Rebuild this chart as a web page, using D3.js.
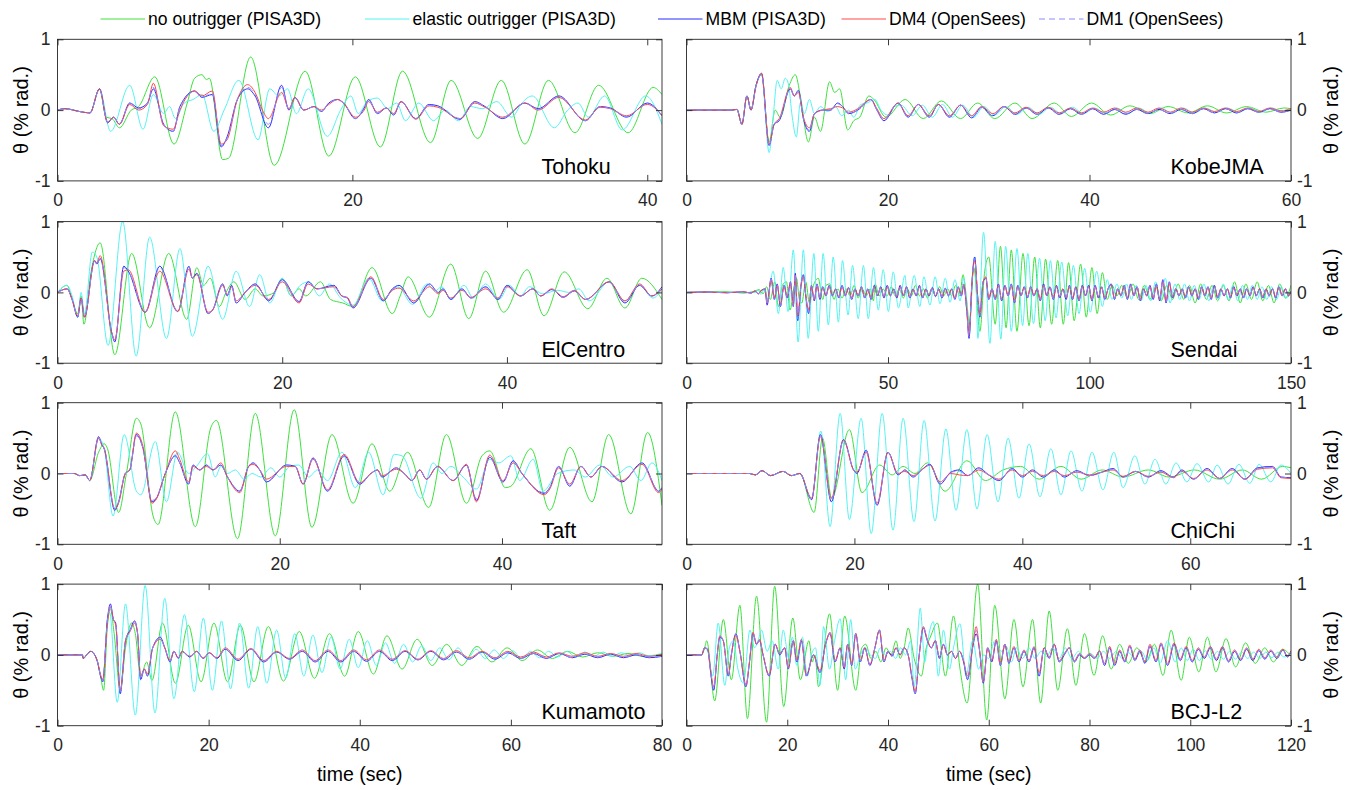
<!DOCTYPE html>
<html>
<head>
<meta charset="utf-8">
<script src="https://cdn.jsdelivr.net/npm/d3@7"></script>
<style>
  body { margin: 0; background: #fff; }
  svg { display: block; }
  text { font-family: "Liberation Sans", Arial, Helvetica, sans-serif; }
</style>
</head>
<body>
<svg id="chart" width="1355" height="790"></svg>
<script>
// ---- Roof rotation histories, flat [t, theta, t, theta, ...] lists (theta in % rad.) ----

// Tohoku
const tohokuNone = [0,0, 0.5,0.02, 1.5,-0.02, 2.2,-0.04, 2.85,0.3, 3.3,-0.1, 3.7,-0.12, 4.2,-0.25, 5.0,0.0, 5.5,0.05, 6.6,0.47, 7.9,-0.48, 8.8,0.1, 9.3,0.45, 9.8,0.5, 10.1,0.43, 10.3,0.45, 11.2,-0.7, 11.6,-0.68, 13.1,0.75, 14.7,-0.78, 16.8,0.55, 18.4,-0.65, 20.2,0.47, 21.9,-0.52, 23.4,0.55, 25.3,-0.46, 26.7,0.42, 28.5,-0.4, 30.1,0.42, 31.7,-0.48, 33.3,0.42, 35.1,-0.32, 36.7,0.35, 38.7,-0.32, 40.4,0.32, 41,0.22];
const tohokuElastic = [0,0, 0.5,0.02, 1.5,-0.02, 2.2,-0.04, 2.85,0.3, 3.6,-0.3, 4.9,0.35, 5.8,-0.27, 6.5,0.22, 7.2,-0.05, 7.6,0.05, 8.0,-0.12, 8.6,0.1, 9.2,0.15, 9.8,0.22, 10.6,-0.3, 11.3,0.0, 12.3,0.42, 13.6,-0.42, 14.4,0.3, 15.0,0.2, 15.6,0.3, 16.2,-0.05, 17.0,0.3, 18.3,-0.37, 19.2,0.0, 19.9,0.2, 20.4,-0.05, 21.0,0.12, 21.7,0.17, 22.4,0.02, 23.0,0.1, 23.6,-0.15, 24.5,0.1, 25.5,-0.15, 26.3,0.0, 27.2,-0.15, 28.0,0.05, 28.8,0.02, 29.8,0.12, 30.8,-0.1, 31.5,0.1, 32.2,0.2, 33.7,-0.25, 34.6,0.0, 35.3,0.1, 36.0,-0.1, 37.1,0.2, 38.3,-0.28, 39.9,0.2, 41,-0.2];
const tohokuMBM = [0,0, 0.5,0.02, 1.5,-0.02, 2.2,-0.04, 2.85,0.3, 3.4,-0.18, 3.8,-0.1, 4.2,-0.2, 4.9,0.1, 5.5,0.03, 6.1,0.1, 6.5,0.3, 7.2,-0.2, 7.85,-0.3, 8.3,0.05, 9.3,0.27, 9.8,0.18, 10.5,0.22, 11.1,-0.52, 11.5,-0.38, 12.2,0.15, 12.9,0.3, 13.4,0.2, 14.3,-0.25, 15.2,0.35, 15.7,0.0, 16.1,0.18, 16.7,0.0, 17.4,0.05, 17.9,-0.02, 18.4,0.1, 19.0,0.15, 19.4,0.1, 20.2,-0.12, 20.8,0.03, 21.1,0.15, 21.7,-0.05, 22.3,0.03, 22.8,-0.07, 23.3,0.12, 24.3,-0.12, 25.2,0.08, 25.8,0.06, 27.3,-0.13, 28.3,0.12, 29.0,0.05, 30.2,-0.12, 31.7,0.1, 32.6,0.02, 34.0,0.2, 35.8,-0.15, 36.8,0.05, 37.5,0.03, 38.6,-0.1, 40.0,0.1, 41,-0.08];
const tohokuDM4 = [0,0, 0.5,0.02, 1.5,-0.02, 2.2,-0.04, 2.85,0.3, 3.4,-0.17, 3.8,-0.1, 4.2,-0.2, 4.9,0.08, 5.5,0.0, 6.1,0.08, 6.5,0.38, 7.2,-0.22, 7.85,-0.27, 8.3,0.0, 9.3,0.27, 9.8,0.2, 10.5,0.27, 11.1,-0.48, 11.5,-0.42, 12.2,0.15, 12.9,0.36, 13.4,0.25, 13.9,0.0, 14.3,-0.12, 15.2,0.25, 15.7,0.02, 16.1,0.18, 16.7,0.0, 17.4,0.05, 17.9,0.0, 18.4,0.08, 19.0,0.15, 19.4,0.1, 20.2,-0.1, 20.8,0.0, 21.1,0.12, 21.7,-0.03, 22.3,0.03, 22.8,-0.05, 23.3,0.12, 24.3,-0.13, 25.2,0.06, 25.8,0.04, 27.3,-0.12, 28.3,0.1, 29.0,0.04, 30.2,-0.1, 31.7,0.1, 32.6,0.0, 34.0,0.18, 35.8,-0.14, 36.8,0.04, 37.5,0.02, 38.6,-0.08, 40.0,0.08, 41,-0.07];
const tohokuDM1 = [0,0, 0.5,0.02, 1.5,-0.02, 2.2,-0.04, 2.85,0.29, 3.4,-0.17, 3.8,-0.1, 4.2,-0.19, 4.9,0.1, 5.5,0.02, 6.1,0.1, 6.5,0.32, 7.2,-0.2, 7.85,-0.3, 8.3,0.04, 9.3,0.26, 9.8,0.18, 10.5,0.24, 11.1,-0.5, 11.5,-0.4, 12.2,0.15, 12.9,0.32, 13.4,0.22, 14.3,-0.2, 15.2,0.32, 15.7,0.0, 16.1,0.17, 16.7,0.0, 17.4,0.05, 17.9,-0.02, 18.4,0.1, 19.0,0.14, 19.4,0.1, 20.2,-0.12, 20.8,0.02, 21.1,0.14, 21.7,-0.04, 22.3,0.03, 22.8,-0.06, 23.3,0.12, 24.3,-0.12, 25.2,0.07, 25.8,0.05, 27.3,-0.12, 28.3,0.11, 29.0,0.05, 30.2,-0.11, 31.7,0.1, 32.6,0.01, 34.0,0.19, 35.8,-0.15, 36.8,0.05, 37.5,0.02, 38.6,-0.09, 40.0,0.09, 41,-0.08];

// KobeJMA
const kobeNone = [0,0, 4.5,0, 5.0,0.01, 5.5,-0.2, 6.0,0.2, 6.4,0.0, 6.9,0.35, 7.45,0.5, 8.2,-0.45, 8.8,0.0, 9.3,-0.1, 10.2,0.35, 10.8,0.5, 11.3,0.2, 12.1,-0.45, 12.7,-0.1, 13.3,-0.3, 14.2,0.4, 14.7,0.25, 15.2,0.3, 16.0,-0.28, 16.6,-0.15, 17.2,-0.1, 18.1,0.2, 18.6,0.15, 19.8,-0.1, 21.7,0.15, 23.5,-0.12, 25.3,0.13, 27.2,-0.12, 28.9,0.1, 30.6,-0.12, 32.6,0.1, 34.3,-0.12, 36.5,0.1, 38.2,-0.09, 40.2,0.1, 42.1,-0.07, 44.0,0.06, 46.0,-0.05, 47.8,0.05, 49.8,-0.04, 51.7,0.06, 53.6,-0.04, 55.6,0.05, 57.5,-0.03, 59.3,0.03, 60,0.02];
const kobeElastic = [0,0, 4.5,0, 5.0,0.01, 5.5,-0.2, 6.0,0.2, 6.4,0.0, 6.9,0.35, 7.45,0.5, 8.2,-0.6, 8.6,-0.1, 9.0,0.42, 9.4,0.3, 9.8,0.45, 10.1,0.38, 10.5,-0.1, 10.9,-0.38, 11.3,0.1, 11.7,-0.05, 12.2,0.15, 12.7,-0.05, 13.3,0.05, 14.0,-0.02, 14.8,0.05, 15.4,-0.08, 16.1,0.0, 16.6,-0.1, 17.3,0.08, 17.9,0.1, 18.7,0.15, 19.3,0.0, 20.0,-0.07, 20.6,0.05, 21.3,0.07, 22.4,-0.08, 23.4,0.07, 24.4,-0.1, 25.4,0.08, 26.4,-0.1, 27.4,0.07, 28.5,-0.1, 29.5,0.05, 30.6,-0.07, 31.7,0.05, 32.8,-0.06, 33.9,0.04, 35.0,-0.06, 36.1,0.04, 37.2,-0.05, 38.3,0.04, 39.4,-0.05, 40.5,0.03, 41.6,-0.05, 42.7,0.03, 43.8,-0.05, 44.9,0.03, 46.0,-0.04, 47.1,0.03, 48.2,-0.04, 49.3,0.03, 50.4,-0.04, 51.5,0.03, 52.6,-0.03, 53.7,0.03, 54.8,-0.03, 55.9,0.03, 57.0,-0.03, 58.1,0.03, 59.2,-0.02, 60,0.01];
const kobeMBM = [0,0, 4.5,0, 5.0,0.01, 5.5,-0.2, 6.0,0.2, 6.4,0.0, 6.9,0.35, 7.45,0.52, 8.2,-0.5, 8.7,-0.2, 9.2,-0.15, 10.3,0.3, 10.7,0.2, 11.1,0.28, 11.6,-0.12, 12.2,-0.3, 12.7,-0.05, 13.5,0.0, 14.3,0.0, 15.0,0.1, 15.5,0.05, 16.1,-0.05, 17.0,0.0, 18.3,0.15, 18.9,0.0, 19.6,-0.15, 21.0,0.1, 22.0,-0.1, 23.0,0.08, 24.1,-0.1, 25.0,0.08, 26.1,-0.1, 27.2,0.07, 28.3,-0.11, 29.3,0.04, 30.4,-0.08, 31.5,0.05, 32.6,-0.06, 33.7,0.03, 34.8,-0.06, 35.9,0.03, 37.0,-0.06, 38.1,0.02, 39.2,-0.06, 40.3,0.02, 41.4,-0.06, 42.5,0.01, 43.6,-0.06, 44.7,0.01, 45.8,-0.05, 46.9,0.01, 48.0,-0.05, 49.1,0.01, 50.2,-0.05, 51.3,0.02, 52.4,-0.04, 53.5,0.02, 54.6,-0.04, 55.7,0.02, 56.8,-0.03, 57.9,0.02, 59.0,-0.03, 60,0.0];
const kobeDM4 = [0,0, 4.5,0, 5.0,0.01, 5.5,-0.2, 6.0,0.2, 6.4,0.0, 6.9,0.33, 7.45,0.52, 8.2,-0.48, 8.7,-0.2, 9.2,-0.12, 10.3,0.32, 10.7,0.2, 11.1,0.25, 11.6,-0.1, 12.2,-0.25, 12.7,-0.05, 13.5,0.0, 14.3,0.02, 15.0,0.05, 15.5,0.03, 16.1,-0.03, 17.0,0.02, 18.3,0.15, 18.9,0.02, 19.6,-0.12, 21.0,0.1, 22.0,-0.08, 23.0,0.08, 24.1,-0.08, 25.0,0.08, 26.1,-0.08, 27.2,0.07, 28.3,-0.08, 29.3,0.05, 30.4,-0.05, 31.5,0.05, 32.6,-0.04, 33.7,0.04, 34.8,-0.04, 35.9,0.04, 37.0,-0.04, 38.1,0.03, 39.2,-0.04, 40.3,0.03, 41.4,-0.03, 42.5,0.03, 43.6,-0.03, 44.7,0.03, 45.8,-0.03, 46.9,0.03, 48.0,-0.03, 49.1,0.03, 50.2,-0.03, 51.3,0.03, 52.4,-0.02, 53.5,0.03, 54.6,-0.02, 55.7,0.03, 56.8,-0.02, 57.9,0.03, 59.0,-0.01, 60,0.02];
const kobeDM1 = [0,0, 4.5,0, 5.0,0.01, 5.5,-0.19, 6.0,0.2, 6.4,0.0, 6.9,0.34, 7.45,0.5, 8.2,-0.5, 8.7,-0.2, 9.2,-0.14, 10.3,0.3, 10.7,0.2, 11.1,0.27, 11.6,-0.12, 12.2,-0.28, 12.7,-0.05, 13.5,0.0, 14.3,0.0, 15.0,0.09, 15.5,0.05, 16.1,-0.05, 17.0,0.0, 18.3,0.15, 18.9,0.0, 19.6,-0.14, 21.0,0.1, 22.0,-0.1, 23.0,0.08, 24.1,-0.1, 25.0,0.08, 26.1,-0.1, 27.2,0.07, 28.3,-0.1, 29.3,0.04, 30.4,-0.08, 31.5,0.05, 32.6,-0.06, 33.7,0.03, 34.8,-0.06, 35.9,0.03, 37.0,-0.06, 38.1,0.02, 39.2,-0.06, 40.3,0.02, 41.4,-0.05, 42.5,0.01, 43.6,-0.05, 44.7,0.01, 45.8,-0.05, 46.9,0.01, 48.0,-0.05, 49.1,0.01, 50.2,-0.05, 51.3,0.02, 52.4,-0.04, 53.5,0.02, 54.6,-0.04, 55.7,0.02, 56.8,-0.03, 57.9,0.02, 59.0,-0.03, 60,0.0];

// ElCentro
const elcNone = [0,0, 0.85,0.1, 1.3,-0.1, 1.8,-0.3, 2.1,-0.05, 2.35,-0.45, 3.0,0.3, 3.8,0.7, 5.1,-0.88, 6.6,0.55, 8.2,-0.5, 9.9,0.55, 11.5,-0.38, 12.4,0.35, 13.0,0.1, 13.6,0.2, 14.4,-0.2, 15.0,0.0, 15.7,0.15, 16.7,-0.1, 17.6,0.05, 18.3,-0.05, 19.3,0.0, 20.0,0.2, 20.8,-0.05, 21.5,0.05, 22.1,-0.05, 23.4,0.15, 24.3,-0.1, 25.4,-0.15, 26.3,-0.2, 28.0,0.35, 29.8,-0.3, 30.5,-0.05, 31.2,0.22, 33.1,-0.35, 35.0,0.4, 36.6,-0.37, 38.1,0.3, 39.7,-0.28, 41.8,0.32, 43.3,-0.33, 45.1,0.29, 47.2,-0.23, 48.9,0.2, 50.5,-0.22, 52.0,0.2, 53.8,-0.1];
const elcElastic = [0,0, 0.85,0.1, 1.3,-0.05, 1.8,-0.35, 2.1,0.0, 2.4,-0.3, 3.1,0.57, 3.5,0.5, 4.5,-0.75, 5.8,1.0, 7.0,-0.9, 8.2,0.78, 9.7,-0.65, 10.9,0.62, 12.0,-0.62, 13.4,0.37, 14.7,-0.38, 15.9,0.3, 17.1,-0.2, 18.0,0.25, 18.9,-0.15, 20.0,0.2, 20.8,-0.05, 21.6,0.1, 22.4,0.15, 23.3,-0.05, 24.2,0.12, 25.2,-0.08, 26.3,-0.18, 27.7,0.2, 28.9,-0.12, 29.6,0.0, 30.3,0.08, 31.6,-0.17, 32.9,0.12, 33.6,0.02, 34.2,0.08, 35.0,-0.1, 36.2,0.1, 37.0,-0.08, 38.1,0.12, 39.3,-0.1, 40.2,0.1, 41.2,-0.05, 42.0,0.08, 43.2,-0.02, 44.5,0.03, 45.5,0.0, 46.4,0.05, 47.3,-0.12, 49.1,0.15, 50.5,-0.12, 51.8,0.1, 53.0,-0.08, 53.8,0.05];
const elcMBM = [0,0, 0.85,0.05, 1.3,-0.1, 1.8,-0.35, 2.1,-0.08, 2.4,-0.35, 3.3,0.45, 3.5,0.4, 3.8,0.48, 4.8,-0.55, 5.1,-0.7, 5.9,0.37, 6.3,0.3, 7.8,-0.28, 9.1,0.37, 10.7,-0.27, 11.7,0.37, 12.0,0.2, 12.4,0.27, 13.4,-0.3, 13.8,-0.25, 14.7,0.12, 15.1,-0.05, 15.5,0.1, 15.9,-0.15, 16.7,0.0, 17.6,0.12, 18.8,-0.12, 20.0,0.18, 21.5,-0.13, 22.3,0.15, 23.1,0.05, 24.6,0.1, 25.3,-0.05, 25.8,-0.08, 26.3,-0.22, 27.9,0.2, 29.0,-0.12, 29.8,0.05, 30.4,0.1, 31.7,-0.15, 33.1,0.12, 33.9,0.0, 34.3,0.05, 35.0,-0.1, 36.0,0.05, 36.8,-0.08, 38.1,0.08, 39.2,-0.1, 40.0,0.1, 41.2,-0.05, 42.3,0.05, 43.0,-0.05, 44.0,0.04, 45.0,-0.07, 46.0,0.02, 47.0,-0.1, 49.1,0.15, 50.5,-0.15, 51.8,0.1, 52.9,-0.05, 53.8,0.08];
const elcDM4 = [0,0, 0.85,0.05, 1.3,-0.1, 1.8,-0.33, 2.1,-0.08, 2.4,-0.35, 3.3,0.45, 3.5,0.42, 3.8,0.52, 4.8,-0.55, 5.1,-0.67, 5.9,0.3, 6.3,0.32, 7.8,-0.28, 9.1,0.3, 10.7,-0.27, 11.7,0.33, 12.0,0.2, 12.4,0.25, 13.4,-0.28, 13.8,-0.25, 14.7,0.1, 15.1,-0.03, 15.5,0.08, 15.9,-0.12, 16.7,0.0, 17.6,0.1, 18.8,-0.1, 20.0,0.15, 21.5,-0.15, 22.3,0.12, 23.1,0.05, 24.6,0.08, 25.3,-0.05, 25.8,-0.07, 26.3,-0.2, 27.9,0.22, 29.0,-0.1, 29.8,0.03, 30.4,0.06, 31.7,-0.12, 33.1,0.08, 33.9,-0.02, 34.3,0.03, 35.0,-0.08, 36.0,0.03, 36.8,-0.07, 38.1,0.05, 39.2,-0.08, 40.0,0.08, 41.2,-0.05, 42.3,0.05, 43.0,-0.05, 44.0,0.05, 45.0,-0.06, 46.0,0.03, 47.0,-0.1, 49.1,0.15, 50.5,-0.12, 51.8,0.12, 52.9,-0.05, 53.8,0.05];
const elcDM1 = [0,0, 0.85,0.05, 1.3,-0.1, 1.8,-0.34, 2.1,-0.08, 2.4,-0.34, 3.3,0.44, 3.5,0.4, 3.8,0.47, 4.8,-0.55, 5.1,-0.68, 5.9,0.35, 6.3,0.3, 7.8,-0.27, 9.1,0.35, 10.7,-0.26, 11.7,0.36, 12.0,0.2, 12.4,0.26, 13.4,-0.3, 13.8,-0.25, 14.7,0.11, 15.1,-0.05, 15.5,0.09, 15.9,-0.14, 16.7,0.0, 17.6,0.11, 18.8,-0.11, 20.0,0.17, 21.5,-0.13, 22.3,0.14, 23.1,0.05, 24.6,0.09, 25.3,-0.05, 25.8,-0.08, 26.3,-0.21, 27.9,0.2, 29.0,-0.11, 29.8,0.04, 30.4,0.09, 31.7,-0.14, 33.1,0.11, 33.9,0.0, 34.3,0.04, 35.0,-0.09, 36.0,0.04, 36.8,-0.08, 38.1,0.07, 39.2,-0.09, 40.0,0.09, 41.2,-0.05, 42.3,0.05, 43.0,-0.05, 44.0,0.04, 45.0,-0.07, 46.0,0.02, 47.0,-0.1, 49.1,0.14, 50.5,-0.14, 51.8,0.1, 52.9,-0.05, 53.8,0.07];

// Sendai
const sendaiNone = [0,0, 10,0.01, 14,-0.01, 17,0.02, 18,0.04, 19,-0.02, 19.9,0.08, 20.8,-0.1, 21.9,0.15, 22.8,-0.2, 23.8,0.1, 24.8,0.15, 25.7,-0.25, 26.6,0.05, 27.3,0.2, 28.0,-0.1, 28.6,-0.15, 29.6,0.15, 30.5,-0.15, 31.5,0.1, 32.7,0.2, 33.8,-0.1, 34.6,0.1, 35.6,0.12, 36.6,-0.1, 37.6,0.05, 38.6,-0.08, 39.6,0.05, 40.6,-0.05, 41.6,0.1, 42.6,-0.08, 43.6,0.05, 44.6,-0.05, 45.6,0.05, 46.4,-0.12, 46.8,0.12, 47.8,-0.05, 48.8,0.05, 49.8,-0.05, 50.8,0.08, 51.8,-0.05, 52.8,0.05, 53.8,-0.08, 54.8,0.05, 55.8,-0.05, 56.8,0.1, 57.8,-0.05, 58.8,0.05, 59.8,-0.08, 60.8,0.05, 61.8,-0.05, 62.8,0.08, 63.8,-0.05, 64.8,0.05, 65.8,-0.05, 66.8,0.1, 67.8,-0.05, 68.6,0.25, 69.5,-0.1, 70.2,-0.45, 71.3,0.35, 72.8,-0.55, 74.0,0.3, 75.0,0.5, 76.6,-0.45, 77.9,0.65, 79.3,-0.5, 80.6,0.6, 82.0,-0.55, 83.5,0.55, 85.0,-0.47, 86.4,0.5, 87.8,-0.5, 89.1,0.47, 90.6,-0.45, 92.1,0.45, 93.5,-0.45, 94.8,0.42, 96.2,-0.4, 97.8,0.4, 99.2,-0.35, 100.6,0.35, 101.9,-0.3, 103.2,0.28, 104.4,-0.1, 105.6,0.1, 106.8,-0.05, 108.0,0.1, 109.4,-0.08, 110.8,0.12, 112.2,-0.1, 113.6,0.1, 115.0,-0.1, 116.4,0.08, 117.8,-0.12, 119.2,0.1, 120.6,-0.1, 122.0,0.12, 123.4,-0.1, 124.8,0.1, 126.2,-0.15, 127.6,0.12, 129.0,-0.1, 130.4,0.1, 131.8,-0.12, 133.2,0.1, 134.6,-0.12, 136.0,0.15, 137.4,-0.15, 138.8,0.12, 140.2,-0.1, 141.6,0.15, 143.0,-0.12, 144.4,0.1, 145.8,-0.15, 147.2,0.12, 148.6,-0.08, 150,0.1];
const sendaiElastic = [0,0, 17,0, 17.8,0.03, 18.5,-0.03, 19.3,0.05, 20,-0.1, 21.5,0.3, 22.8,-0.3, 24.0,0.35, 25.2,-0.27, 26.5,0.6, 27.7,-0.7, 29.0,0.6, 30.2,-0.65, 31.6,0.55, 32.7,-0.55, 33.9,0.55, 35.2,-0.46, 36.4,0.5, 37.7,-0.42, 38.7,0.45, 40.1,-0.32, 41.2,0.38, 42.6,-0.37, 43.9,0.38, 45.1,-0.37, 46.4,0.35, 47.6,-0.25, 48.8,0.32, 50.1,-0.27, 51.3,0.29, 52.6,-0.22, 54.2,0.24, 55.0,-0.22, 56.5,0.24, 57.9,-0.2, 58.9,0.22, 60.4,-0.18, 61.7,0.22, 62.9,-0.16, 64.2,0.2, 65.4,-0.14, 66.6,0.18, 67.9,-0.12, 68.8,0.2, 69.6,-0.2, 70.2,-0.6, 71.0,0.3, 71.6,0.5, 72.3,-0.65, 73.7,0.85, 75.3,-0.72, 76.6,0.72, 78.0,-0.66, 79.2,0.65, 80.6,-0.55, 82.0,0.62, 83.4,-0.47, 84.7,0.55, 86.1,-0.44, 87.6,0.48, 89.0,-0.4, 90.3,0.45, 91.7,-0.36, 93.1,0.43, 94.6,-0.33, 96.0,0.38, 97.4,-0.3, 98.8,0.34, 100.2,-0.28, 101.8,0.3, 103.2,-0.2, 104.4,0.18, 105.6,-0.1, 106.8,0.12, 108.0,-0.08, 109.2,0.12, 110.4,-0.1, 111.6,0.1, 112.8,-0.12, 114.0,0.1, 115.2,-0.12, 116.4,0.15, 117.6,-0.12, 118.8,0.2, 120.0,-0.15, 121.2,0.12, 122.4,-0.1, 123.6,0.12, 124.8,-0.12, 126.0,0.1, 127.2,-0.1, 128.4,0.12, 129.6,-0.12, 130.8,0.1, 132.0,-0.1, 133.2,0.12, 134.4,-0.1, 135.6,0.1, 136.8,-0.12, 138.0,0.1, 139.2,-0.1, 140.4,0.1, 141.6,-0.1, 142.8,0.08, 144.0,-0.1, 145.2,0.08, 146.4,-0.1, 147.6,0.08, 148.8,-0.08, 150,0.02];
const sendaiMBM = [0,0, 5,0.005, 10,-0.005, 14,0.01, 16,-0.01, 17,0.02, 17.8,-0.02, 18.6,0.03, 19.5,0.05, 20.0,-0.18, 21.0,0.2, 21.8,-0.1, 22.5,0.12, 23.3,-0.2, 24.2,0.1, 25.0,-0.08, 25.8,0.15, 26.5,-0.2, 27.0,0.27, 27.6,-0.4, 28.4,0.1, 29.0,0.25, 29.6,-0.05, 30.3,-0.3, 31.0,0.1, 31.7,-0.12, 32.4,0.12, 33.1,-0.1, 33.8,0.08, 34.6,-0.05, 35.4,0.1, 36.2,-0.05, 37.0,0.05, 37.8,-0.08, 38.6,0.1, 39.4,-0.05, 40.2,0.07, 41.0,-0.1, 41.8,0.05, 42.6,-0.05, 43.4,0.08, 44.2,-0.08, 45.0,0.05, 45.8,-0.1, 46.6,0.1, 47.4,-0.05, 48.2,0.08, 49.0,-0.08, 49.8,0.1, 50.6,-0.05, 51.4,0.05, 52.2,-0.08, 53.0,0.1, 53.8,-0.05, 54.6,0.08, 55.4,-0.08, 56.2,0.05, 57.0,-0.05, 57.8,0.1, 58.6,-0.08, 59.4,0.05, 60.2,-0.05, 61.0,0.07, 61.8,-0.06, 62.6,0.05, 63.4,-0.08, 64.2,0.06, 65.0,-0.05, 65.8,0.05, 66.6,-0.1, 67.4,0.08, 68.2,-0.05, 68.8,0.1, 69.6,-0.3, 70.1,-0.65, 70.8,0.1, 71.5,0.5, 72.3,-0.1, 72.8,-0.35, 73.6,0.15, 74.3,0.2, 75.0,-0.1, 75.8,0.05, 76.6,-0.1, 77.4,0.12, 78.2,-0.12, 79.0,0.1, 79.8,-0.05, 80.6,0.12, 81.4,-0.15, 82.2,0.1, 83.0,-0.05, 83.8,0.08, 84.6,-0.08, 85.4,0.08, 86.2,-0.05, 87.0,0.05, 87.8,-0.12, 88.6,0.12, 89.4,-0.05, 90.2,0.08, 91.0,-0.1, 91.8,0.1, 92.6,-0.08, 93.4,0.05, 94.2,-0.1, 95.0,0.1, 95.8,-0.1, 96.6,0.08, 97.4,-0.12, 98.2,0.1, 99.0,-0.05, 99.8,0.1, 100.6,-0.12, 101.4,0.1, 102.2,-0.08, 103.0,0.08, 103.8,-0.1, 104.6,0.05, 105.4,0.12, 106.2,-0.1, 107.0,0.05, 107.8,-0.05, 108.6,0.1, 109.4,-0.1, 110.2,0.12, 111.0,-0.05, 111.8,0.08, 112.6,-0.12, 113.4,0.05, 114.2,-0.05, 115.0,0.1, 115.8,-0.1, 116.6,0.12, 117.4,-0.12, 118.2,0.18, 119.0,-0.15, 119.8,0.15, 120.6,-0.08, 121.4,0.05, 122.2,-0.05, 123.0,0.05, 123.8,-0.08, 124.6,0.08, 125.4,-0.05, 126.2,0.05, 127.0,-0.1, 127.8,0.08, 128.6,-0.05, 129.4,0.08, 130.2,-0.1, 131.0,0.1, 131.8,-0.08, 132.6,0.05, 133.4,-0.05, 134.2,0.05, 135.0,-0.08, 135.8,0.08, 136.6,-0.05, 137.4,0.05, 138.2,-0.08, 139.0,0.05, 139.8,-0.05, 140.6,0.08, 141.4,-0.05, 142.2,0.05, 143.0,-0.08, 143.8,0.05, 144.6,-0.05, 145.4,0.05, 146.2,-0.08, 147.0,0.08, 147.8,-0.05, 148.6,0.05, 149.4,-0.05, 150,0.02];
const sendaiDM4 = [0,0, 5,0.005, 10,-0.005, 14,0.01, 16,-0.01, 17,0.02, 17.8,-0.02, 18.6,0.03, 19.5,0.04, 20.0,-0.15, 21.0,0.18, 21.8,-0.08, 22.5,0.1, 23.3,-0.17, 24.2,0.08, 25.0,-0.06, 25.8,0.13, 26.5,-0.18, 27.0,0.24, 27.6,-0.33, 28.4,0.08, 29.0,0.22, 29.6,-0.04, 30.3,-0.25, 31.0,0.08, 31.7,-0.1, 32.4,0.1, 33.1,-0.08, 33.8,0.07, 34.6,-0.04, 35.4,0.08, 36.2,-0.04, 37.0,0.04, 37.8,-0.06, 38.6,0.08, 39.4,-0.04, 40.2,0.06, 41.0,-0.08, 41.8,0.04, 42.6,-0.04, 43.4,0.07, 44.2,-0.06, 45.0,0.04, 45.8,-0.08, 46.6,0.08, 47.4,-0.04, 48.2,0.07, 49.0,-0.06, 49.8,0.08, 50.6,-0.04, 51.4,0.04, 52.2,-0.06, 53.0,0.08, 53.8,-0.04, 54.6,0.07, 55.4,-0.06, 56.2,0.04, 57.0,-0.04, 57.8,0.08, 58.6,-0.06, 59.4,0.04, 60.2,-0.04, 61.0,0.06, 61.8,-0.05, 62.6,0.04, 63.4,-0.06, 64.2,0.05, 65.0,-0.04, 65.8,0.04, 66.6,-0.08, 67.4,0.07, 68.2,-0.04, 68.8,0.12, 69.6,-0.28, 70.1,-0.6, 70.8,0.12, 71.5,0.45, 72.3,-0.08, 72.8,-0.3, 73.6,0.15, 74.3,0.22, 75.0,-0.08, 75.8,0.05, 76.6,-0.08, 77.4,0.1, 78.2,-0.1, 79.0,0.08, 79.8,-0.04, 80.6,0.1, 81.4,-0.12, 82.2,0.08, 83.0,-0.04, 83.8,0.07, 84.6,-0.06, 85.4,0.07, 86.2,-0.04, 87.0,0.05, 87.8,-0.1, 88.6,0.1, 89.4,-0.04, 90.2,0.07, 91.0,-0.08, 91.8,0.08, 92.6,-0.06, 93.4,0.05, 94.2,-0.08, 95.0,0.08, 95.8,-0.08, 96.6,0.07, 97.4,-0.1, 98.2,0.08, 99.0,-0.04, 99.8,0.08, 100.6,-0.1, 101.4,0.08, 102.2,-0.06, 103.0,0.07, 103.8,-0.08, 104.6,0.05, 105.4,0.1, 106.2,-0.08, 107.0,0.05, 107.8,-0.04, 108.6,0.08, 109.4,-0.08, 110.2,0.1, 111.0,-0.04, 111.8,0.07, 112.6,-0.1, 113.4,0.05, 114.2,-0.04, 115.0,0.08, 115.8,-0.08, 116.6,0.1, 117.4,-0.1, 118.2,0.15, 119.0,-0.12, 119.8,0.13, 120.6,-0.06, 121.4,0.05, 122.2,-0.04, 123.0,0.05, 123.8,-0.06, 124.6,0.07, 125.4,-0.04, 126.2,0.05, 127.0,-0.08, 127.8,0.07, 128.6,-0.04, 129.4,0.07, 130.2,-0.08, 131.0,0.08, 131.8,-0.06, 132.6,0.05, 133.4,-0.04, 134.2,0.05, 135.0,-0.06, 135.8,0.07, 136.6,-0.04, 137.4,0.05, 138.2,-0.06, 139.0,0.05, 139.8,-0.04, 140.6,0.07, 141.4,-0.04, 142.2,0.05, 143.0,-0.06, 143.8,0.05, 144.6,-0.04, 145.4,0.05, 146.2,-0.06, 147.0,0.07, 147.8,-0.04, 148.6,0.05, 149.4,-0.04, 150,0.02];
const sendaiDM1 = [0,0, 5,0.005, 10,-0.005, 14,0.01, 16,-0.01, 17,0.02, 17.8,-0.02, 18.6,0.03, 19.5,0.05, 20.0,-0.17, 21.0,0.19, 21.8,-0.1, 22.5,0.11, 23.3,-0.19, 24.2,0.1, 25.0,-0.08, 25.8,0.14, 26.5,-0.19, 27.0,0.26, 27.6,-0.38, 28.4,0.1, 29.0,0.24, 29.6,-0.05, 30.3,-0.28, 31.0,0.1, 31.7,-0.11, 32.4,0.11, 33.1,-0.1, 33.8,0.08, 34.6,-0.05, 35.4,0.09, 36.2,-0.05, 37.0,0.05, 37.8,-0.08, 38.6,0.09, 39.4,-0.05, 40.2,0.07, 41.0,-0.09, 41.8,0.05, 42.6,-0.05, 43.4,0.08, 44.2,-0.07, 45.0,0.05, 45.8,-0.09, 46.6,0.09, 47.4,-0.05, 48.2,0.08, 49.0,-0.07, 49.8,0.09, 50.6,-0.05, 51.4,0.05, 52.2,-0.07, 53.0,0.09, 53.8,-0.05, 54.6,0.08, 55.4,-0.07, 56.2,0.05, 57.0,-0.05, 57.8,0.09, 58.6,-0.07, 59.4,0.05, 60.2,-0.05, 61.0,0.07, 61.8,-0.06, 62.6,0.05, 63.4,-0.07, 64.2,0.06, 65.0,-0.05, 65.8,0.05, 66.6,-0.09, 67.4,0.08, 68.2,-0.05, 68.8,0.1, 69.6,-0.3, 70.1,-0.62, 70.8,0.1, 71.5,0.48, 72.3,-0.1, 72.8,-0.33, 73.6,0.15, 74.3,0.2, 75.0,-0.1, 75.8,0.05, 76.6,-0.1, 77.4,0.11, 78.2,-0.11, 79.0,0.1, 79.8,-0.05, 80.6,0.11, 81.4,-0.14, 82.2,0.1, 83.0,-0.05, 83.8,0.08, 84.6,-0.07, 85.4,0.08, 86.2,-0.05, 87.0,0.05, 87.8,-0.11, 88.6,0.11, 89.4,-0.05, 90.2,0.08, 91.0,-0.09, 91.8,0.09, 92.6,-0.07, 93.4,0.05, 94.2,-0.09, 95.0,0.09, 95.8,-0.09, 96.6,0.08, 97.4,-0.11, 98.2,0.09, 99.0,-0.05, 99.8,0.09, 100.6,-0.11, 101.4,0.09, 102.2,-0.07, 103.0,0.08, 103.8,-0.09, 104.6,0.05, 105.4,0.11, 106.2,-0.09, 107.0,0.05, 107.8,-0.05, 108.6,0.09, 109.4,-0.09, 110.2,0.11, 111.0,-0.05, 111.8,0.08, 112.6,-0.11, 113.4,0.05, 114.2,-0.05, 115.0,0.09, 115.8,-0.09, 116.6,0.11, 117.4,-0.11, 118.2,0.17, 119.0,-0.14, 119.8,0.14, 120.6,-0.07, 121.4,0.05, 122.2,-0.05, 123.0,0.05, 123.8,-0.07, 124.6,0.08, 125.4,-0.05, 126.2,0.05, 127.0,-0.09, 127.8,0.08, 128.6,-0.05, 129.4,0.08, 130.2,-0.09, 131.0,0.09, 131.8,-0.07, 132.6,0.05, 133.4,-0.05, 134.2,0.05, 135.0,-0.07, 135.8,0.08, 136.6,-0.05, 137.4,0.05, 138.2,-0.07, 139.0,0.05, 139.8,-0.05, 140.6,0.08, 141.4,-0.05, 142.2,0.05, 143.0,-0.07, 143.8,0.05, 144.6,-0.05, 145.4,0.05, 146.2,-0.07, 147.0,0.08, 147.8,-0.05, 148.6,0.05, 149.4,-0.05, 150,0.02];

// Taft
const taftNone = [0,0, 1.5,0, 2.0,-0.03, 2.5,-0.02, 2.9,-0.1, 3.7,0.3, 4.2,0.42, 4.5,0.35, 5.5,-0.55, 6.2,0.0, 7.1,0.78, 7.5,0.7, 8.6,-0.6, 9.05,-0.72, 10.6,0.87, 12.4,-0.75, 13.8,0.65, 14.3,0.75, 16.2,-0.92, 17.8,0.85, 19.6,-0.88, 21.3,0.9, 22.9,-0.76, 24.7,0.55, 26.6,-0.42, 28.3,0.42, 29.9,-0.25, 31.5,0.3, 33.4,-0.48, 35.0,0.55, 36.8,-0.42, 38.2,0.25, 38.9,0.32, 40.3,-0.2, 40.8,-0.18, 42.6,0.35, 44.3,-0.52, 46.1,0.37, 48.1,-0.4, 49.6,0.55, 51.6,-0.57, 53.1,0.58, 54.4,-0.45];
const taftElastic = [0,0, 1.5,0, 2.0,-0.03, 2.5,-0.02, 2.9,-0.1, 3.7,0.5, 4.2,0.35, 5.0,-0.6, 6.0,0.55, 7.1,-0.25, 7.5,-0.3, 8.8,0.45, 9.8,-0.4, 10.8,0.3, 11.8,0.0, 12.5,0.1, 13.5,0.28, 14.2,-0.05, 14.7,0.1, 15.3,0.0, 16.0,0.05, 16.8,-0.08, 17.5,0.0, 18.3,-0.05, 19.2,0.08, 20.0,-0.05, 20.9,0.1, 21.7,0.12, 22.6,-0.05, 23.4,0.05, 24.3,-0.1, 25.6,0.3, 26.8,-0.2, 28.0,0.3, 29.3,-0.3, 30.3,0.27, 31.0,0.25, 32.7,-0.35, 33.8,0.15, 34.6,0.0, 35.4,0.1, 36.5,-0.05, 37.7,-0.22, 38.9,0.2, 39.7,0.15, 40.8,0.25, 41.6,-0.1, 42.8,0.2, 43.7,-0.25, 45.0,0.0, 46.5,0.05, 47.5,-0.05, 48.8,0.12, 50.0,-0.05, 51.5,0.1, 52.5,-0.1, 53.5,0.15, 54.4,-0.1];
const taftMBM = [0,0, 1.5,0, 2.0,-0.03, 2.5,-0.02, 2.9,-0.1, 3.7,0.52, 4.0,0.4, 4.2,0.35, 5.15,-0.52, 5.5,-0.4, 6.1,0.0, 6.5,0.05, 7.1,0.55, 7.7,0.35, 8.5,-0.4, 8.9,-0.35, 9.7,0.0, 10.6,0.25, 11.0,0.15, 11.8,-0.15, 12.2,0.12, 12.8,0.05, 13.4,0.12, 14.0,0.05, 14.7,0.12, 15.3,-0.05, 16.4,-0.25, 17.2,0.1, 17.6,0.15, 18.2,0.05, 18.8,-0.12, 20.6,0.12, 21.4,0.1, 22.1,-0.15, 23.0,0.22, 24.3,-0.25, 25.8,0.25, 27.2,-0.15, 28.2,0.0, 28.8,0.05, 29.2,-0.05, 30.5,0.08, 31.2,0.0, 31.9,-0.1, 32.6,0.05, 33.2,-0.08, 34.2,0.1, 35.6,-0.1, 36.8,0.12, 37.7,-0.38, 38.9,0.23, 40.1,-0.12, 41.0,0.18, 41.8,0.0, 43.8,-0.28, 44.3,-0.2, 45.1,0.1, 46.1,-0.18, 47.1,0.1, 48.0,-0.05, 49.0,0.1, 50.8,-0.12, 52.6,0.15, 54.1,-0.25, 54.4,-0.2];
const taftDM4 = [0,0, 1.5,0, 2.0,-0.03, 2.5,-0.02, 2.9,-0.1, 3.7,0.5, 4.0,0.4, 4.2,0.36, 5.15,-0.5, 5.5,-0.42, 6.1,0.0, 6.5,0.05, 7.1,0.57, 7.7,0.38, 8.5,-0.42, 8.9,-0.36, 9.7,0.0, 10.6,0.32, 11.0,0.2, 11.8,-0.12, 12.2,0.1, 12.8,0.05, 13.4,0.1, 14.0,0.05, 14.7,0.15, 15.3,-0.05, 16.4,-0.27, 17.2,0.1, 17.6,0.13, 18.2,0.05, 18.8,-0.08, 20.6,0.1, 21.4,0.1, 22.1,-0.15, 23.0,0.2, 24.3,-0.23, 25.8,0.27, 27.2,-0.13, 28.2,0.0, 28.8,0.05, 29.2,-0.03, 30.5,0.06, 31.2,0.0, 31.9,-0.1, 32.6,0.05, 33.2,-0.08, 34.2,0.1, 35.6,-0.1, 36.8,0.13, 37.7,-0.4, 38.9,0.26, 40.1,-0.1, 41.0,0.15, 41.8,0.0, 43.8,-0.3, 44.3,-0.22, 45.1,0.08, 46.1,-0.15, 47.1,0.1, 48.0,-0.05, 49.0,0.1, 50.8,-0.1, 52.6,0.13, 54.1,-0.27, 54.4,-0.22];
const taftDM1 = [0,0, 1.5,0, 2.0,-0.03, 2.5,-0.02, 2.9,-0.1, 3.7,0.51, 4.0,0.4, 4.2,0.35, 5.15,-0.5, 5.5,-0.4, 6.1,0.0, 6.5,0.05, 7.1,0.53, 7.7,0.35, 8.5,-0.38, 8.9,-0.34, 9.7,0.0, 10.6,0.26, 11.0,0.15, 11.8,-0.14, 12.2,0.12, 12.8,0.05, 13.4,0.12, 14.0,0.05, 14.7,0.12, 15.3,-0.05, 16.4,-0.24, 17.2,0.1, 17.6,0.15, 18.2,0.05, 18.8,-0.11, 20.6,0.12, 21.4,0.1, 22.1,-0.14, 23.0,0.22, 24.3,-0.24, 25.8,0.24, 27.2,-0.14, 28.2,0.0, 28.8,0.05, 29.2,-0.05, 30.5,0.08, 31.2,0.0, 31.9,-0.1, 32.6,0.05, 33.2,-0.08, 34.2,0.1, 35.6,-0.1, 36.8,0.12, 37.7,-0.36, 38.9,0.22, 40.1,-0.12, 41.0,0.17, 41.8,0.0, 43.8,-0.27, 44.3,-0.2, 45.1,0.1, 46.1,-0.17, 47.1,0.1, 48.0,-0.05, 49.0,0.1, 50.8,-0.12, 52.6,0.14, 54.1,-0.24, 54.4,-0.2];

// ChiChi
const chichiNone = [0,0, 7.5,0, 8.2,-0.02, 9.0,0.04, 10.0,-0.03, 11.5,0.03, 12.5,-0.03, 13.5,0.0, 15.2,-0.55, 16.2,0.5, 17.3,-0.35, 19.4,0.62, 20.9,-0.27, 23.0,0.12, 24.5,-0.02, 25.8,0.1, 27.2,0.0, 28.7,0.15, 30.8,-0.25, 33.4,0.18, 35.6,-0.1, 37.7,0.05, 39.8,0.1, 42.0,-0.08, 44.6,0.1, 47.0,-0.08, 49.5,0.05, 52.0,-0.05, 55.0,0.05, 57.5,-0.05, 60.5,0.05, 63.5,-0.08, 66.2,0.05, 68.5,-0.08, 71.0,0.1, 72,0.08];
const chichiElastic = [0,0, 7.5,0, 8.2,-0.02, 9.0,0.04, 10.0,-0.03, 11.5,0.03, 12.5,-0.03, 13.5,0.0, 14.9,-0.35, 16.0,0.6, 17.1,-0.75, 18.3,0.85, 19.4,-0.65, 20.8,0.78, 22.0,-0.85, 23.3,0.85, 24.6,-0.8, 25.8,0.78, 27.1,-0.68, 28.3,0.75, 29.6,-0.67, 30.9,0.63, 32.1,-0.52, 33.4,0.62, 34.6,-0.5, 35.8,0.55, 37.1,-0.4, 38.3,0.5, 39.6,-0.35, 40.8,0.42, 42.1,-0.33, 43.4,0.35, 44.6,-0.3, 45.8,0.32, 47.1,-0.25, 48.3,0.3, 49.6,-0.23, 50.9,0.3, 52.0,-0.2, 53.4,0.25, 54.6,-0.15, 55.8,0.2, 57.1,-0.15, 58.3,0.15, 59.6,-0.12, 60.8,0.14, 62.2,-0.12, 63.2,0.12, 64.5,-0.15, 65.8,0.13, 67.1,-0.14, 68.2,0.13, 69.6,-0.12, 70.8,0.12, 72,0.0];
const chichiMBM = [0,0, 7.5,0, 8.2,-0.02, 9.0,0.04, 10.0,-0.03, 11.5,0.03, 12.5,-0.03, 13.5,0.0, 14.9,-0.37, 15.95,0.55, 17.25,-0.4, 18.7,0.48, 19.9,0.05, 20.3,0.0, 21.4,0.33, 22.7,-0.45, 24.0,0.3, 25.2,-0.02, 26.0,0.05, 27.0,-0.05, 28.0,0.05, 29.0,0.13, 30.2,-0.15, 31.5,0.02, 32.5,0.05, 33.5,-0.03, 34.8,0.08, 36.0,-0.02, 37.2,-0.1, 38.8,0.07, 40.0,-0.05, 41.2,0.05, 42.5,-0.05, 43.8,0.05, 45.0,-0.05, 46.5,0.04, 48.0,-0.03, 49.5,0.02, 50.8,0.07, 52.0,-0.05, 53.5,0.03, 55.0,-0.05, 56.5,0.04, 58.0,-0.05, 59.0,0.05, 60.4,-0.08, 62.0,0.07, 63.5,-0.07, 65.0,0.07, 66.5,-0.08, 68.0,0.08, 69.8,0.1, 70.8,-0.05, 72,-0.06];
const chichiDM4 = [0,0, 7.5,0, 8.2,-0.02, 9.0,0.04, 10.0,-0.03, 11.5,0.03, 12.5,-0.03, 13.5,0.0, 14.9,-0.35, 15.95,0.52, 17.25,-0.35, 18.7,0.47, 19.9,0.05, 20.3,0.02, 21.4,0.3, 22.7,-0.42, 24.0,0.3, 25.2,0.0, 26.0,0.03, 27.0,-0.03, 28.0,0.05, 29.0,0.12, 30.2,-0.12, 31.5,0.0, 32.5,-0.02, 33.5,-0.03, 34.8,0.05, 36.0,-0.02, 37.2,-0.08, 38.8,0.05, 40.0,-0.03, 41.2,0.03, 42.5,-0.03, 43.8,0.03, 45.0,-0.03, 46.5,0.02, 48.0,-0.02, 49.5,0.02, 50.8,0.05, 52.0,-0.04, 53.5,0.03, 55.0,-0.04, 56.5,0.02, 58.0,-0.06, 59.0,0.03, 60.4,-0.07, 62.0,0.05, 63.5,-0.07, 65.0,0.05, 66.5,-0.08, 68.0,0.06, 69.8,0.08, 70.8,-0.06, 72,-0.07];
const chichiDM1 = [0,0, 7.5,0, 8.2,-0.02, 9.0,0.04, 10.0,-0.03, 11.5,0.03, 12.5,-0.03, 13.5,0.0, 14.9,-0.36, 15.95,0.54, 17.25,-0.38, 18.7,0.47, 19.9,0.05, 20.3,0.01, 21.4,0.32, 22.7,-0.44, 24.0,0.3, 25.2,-0.01, 26.0,0.05, 27.0,-0.04, 28.0,0.05, 29.0,0.12, 30.2,-0.14, 31.5,0.02, 32.5,0.03, 33.5,-0.03, 34.8,0.07, 36.0,-0.02, 37.2,-0.09, 38.8,0.06, 40.0,-0.04, 41.2,0.04, 42.5,-0.04, 43.8,0.04, 45.0,-0.04, 46.5,0.03, 48.0,-0.03, 49.5,0.02, 50.8,0.06, 52.0,-0.05, 53.5,0.03, 55.0,-0.05, 56.5,0.03, 58.0,-0.05, 59.0,0.04, 60.4,-0.08, 62.0,0.06, 63.5,-0.07, 65.0,0.06, 66.5,-0.08, 68.0,0.07, 69.8,0.09, 70.8,-0.05, 72,-0.06];

// Kumamoto
const kumaNone = [0,0, 3.3,0, 3.4,-0.05, 4.0,0.02, 4.4,0.05, 4.8,0.02, 5.3,-0.1, 5.7,-0.3, 6.1,-0.5, 6.6,0.4, 7.0,0.65, 7.5,0.3, 8.3,-0.5, 9.0,0.1, 9.8,0.45, 10.3,0.3, 11.0,-0.3, 11.8,-0.1, 12.5,-0.36, 13.9,0.45, 15.6,-0.4, 17.3,0.42, 19.0,-0.38, 20.7,0.45, 22.5,-0.38, 24.2,0.42, 26.0,-0.38, 27.9,0.4, 29.9,-0.37, 32.0,0.33, 34.0,-0.33, 36.0,0.3, 38.0,-0.3, 39.8,0.33, 41.8,-0.27, 43.6,0.27, 45.6,-0.2, 47.6,0.22, 49.6,-0.15, 51.5,0.15, 53.5,-0.15, 55.5,0.12, 57.5,-0.1, 59.5,0.1, 61.5,-0.08, 63.5,0.07, 65.5,-0.05, 67.5,0.05, 69.5,-0.03, 71.5,0.03, 73.5,-0.02, 75.5,0.02, 77.5,-0.02, 80,0.0];
const kumaElastic = [0,0, 3.3,0, 3.4,-0.05, 4.0,0.02, 4.4,0.05, 4.8,0.02, 5.3,-0.1, 5.7,-0.3, 6.0,-0.35, 6.6,0.5, 6.9,0.6, 7.9,-0.67, 9.0,0.72, 10.3,-0.85, 11.6,0.98, 12.9,-0.82, 14.2,0.8, 15.4,-0.62, 16.8,0.57, 18.1,-0.52, 19.3,0.52, 20.5,-0.5, 21.7,0.48, 22.9,-0.48, 24.1,0.45, 25.3,-0.47, 26.5,0.4, 27.7,-0.4, 29.0,0.35, 30.2,-0.33, 31.4,0.3, 32.6,-0.3, 33.8,0.28, 35.0,-0.25, 36.2,0.25, 37.4,-0.2, 38.6,0.22, 39.8,-0.18, 41.0,0.2, 42.2,-0.15, 43.4,0.17, 44.6,-0.12, 45.8,0.15, 47.0,-0.1, 48.2,0.13, 49.4,-0.08, 50.6,0.1, 51.8,-0.07, 53.0,0.1, 54.2,-0.06, 55.4,0.08, 56.6,-0.05, 57.8,0.07, 59.0,-0.05, 60.2,0.06, 61.4,-0.05, 62.6,0.05, 63.8,-0.04, 65.0,0.05, 66.2,-0.03, 67.4,0.05, 68.6,-0.03, 69.8,0.04, 71.0,-0.02, 72.2,0.04, 73.4,-0.02, 74.6,0.03, 75.8,-0.01, 77.0,0.03, 78.2,-0.01, 80,0.02];
const kumaMBM = [0,0, 3.3,0, 3.4,-0.05, 4.0,0.02, 4.4,0.05, 4.8,0.02, 5.3,-0.1, 5.7,-0.3, 6.0,-0.38, 6.6,0.5, 7.0,0.72, 7.4,0.5, 7.7,0.45, 8.3,-0.55, 9.0,0.2, 9.6,0.35, 10.2,0.48, 10.6,0.3, 11.0,-0.35, 11.5,-0.2, 11.9,-0.3, 12.6,0.1, 13.6,0.25, 14.2,0.1, 14.9,-0.1, 15.4,0.05, 16.0,-0.05, 16.5,0.05, 17.5,-0.03, 18.4,0.05, 19.3,-0.05, 20.1,0.03, 21.1,-0.05, 22.2,0.08, 23.9,-0.08, 25.6,0.08, 27.3,-0.1, 29.0,0.04, 30.7,-0.06, 32.4,0.05, 34.1,-0.1, 35.8,0.05, 37.5,-0.1, 39.2,0.05, 40.9,-0.09, 42.6,0.05, 44.3,-0.08, 46.0,0.05, 47.7,-0.07, 49.4,0.05, 51.1,-0.07, 52.8,0.04, 54.5,-0.06, 56.2,0.04, 57.9,-0.06, 59.6,0.03, 61.3,-0.05, 63.0,0.02, 64.7,-0.05, 66.4,0.02, 68.1,-0.04, 69.8,0.01, 71.5,-0.04, 73.2,0.01, 74.9,-0.04, 76.6,0.0, 78.3,-0.04, 80,-0.02];
const kumaDM4 = [0,0, 3.3,0, 3.4,-0.05, 4.0,0.02, 4.4,0.05, 4.8,0.02, 5.3,-0.1, 5.7,-0.28, 6.0,-0.35, 6.6,0.45, 7.0,0.68, 7.4,0.5, 7.7,0.42, 8.3,-0.5, 9.0,0.2, 9.6,0.33, 10.2,0.45, 10.6,0.3, 11.0,-0.3, 11.5,-0.2, 11.9,-0.27, 12.6,0.1, 13.6,0.22, 14.2,0.1, 14.9,-0.08, 15.4,0.05, 16.0,-0.04, 16.5,0.05, 17.5,-0.02, 18.4,0.05, 19.3,-0.04, 20.1,0.03, 21.1,-0.04, 22.2,0.1, 23.9,-0.06, 25.6,0.09, 27.3,-0.08, 29.0,0.05, 30.7,-0.05, 32.4,0.07, 34.1,-0.08, 35.8,0.07, 37.5,-0.08, 39.2,0.07, 40.9,-0.07, 42.6,0.07, 44.3,-0.06, 46.0,0.06, 47.7,-0.06, 49.4,0.06, 51.1,-0.05, 52.8,0.06, 54.5,-0.04, 56.2,0.05, 57.9,-0.04, 59.6,0.05, 61.3,-0.03, 63.0,0.04, 64.7,-0.03, 66.4,0.03, 68.1,-0.02, 69.8,0.03, 71.5,-0.02, 73.2,0.02, 74.9,-0.02, 76.6,0.02, 78.3,-0.02, 80,0.01];
const kumaDM1 = [0,0, 3.3,0, 3.4,-0.05, 4.0,0.02, 4.4,0.05, 4.8,0.02, 5.3,-0.1, 5.7,-0.3, 6.0,-0.37, 6.6,0.48, 7.0,0.7, 7.4,0.5, 7.7,0.44, 8.3,-0.53, 9.0,0.2, 9.6,0.34, 10.2,0.47, 10.6,0.3, 11.0,-0.33, 11.5,-0.2, 11.9,-0.29, 12.6,0.1, 13.6,0.24, 14.2,0.1, 14.9,-0.09, 15.4,0.05, 16.0,-0.05, 16.5,0.05, 17.5,-0.03, 18.4,0.05, 19.3,-0.05, 20.1,0.03, 21.1,-0.05, 22.2,0.08, 23.9,-0.07, 25.6,0.08, 27.3,-0.09, 29.0,0.04, 30.7,-0.06, 32.4,0.05, 34.1,-0.09, 35.8,0.05, 37.5,-0.09, 39.2,0.05, 40.9,-0.08, 42.6,0.05, 44.3,-0.07, 46.0,0.05, 47.7,-0.07, 49.4,0.05, 51.1,-0.06, 52.8,0.04, 54.5,-0.06, 56.2,0.04, 57.9,-0.05, 59.6,0.03, 61.3,-0.05, 63.0,0.02, 64.7,-0.04, 66.4,0.02, 68.1,-0.04, 69.8,0.01, 71.5,-0.03, 73.2,0.01, 74.9,-0.03, 76.6,0.0, 78.3,-0.03, 80,-0.02];

// BCJ-L2
const bcjNone = [0,0, 3.0,0, 3.6,0.1, 4.0,0.2, 5.6,-0.65, 7.3,0.5, 8.9,-0.35, 10.6,0.7, 12.1,-0.9, 13.9,0.83, 15.9,-0.95, 17.5,0.97, 19.3,-0.73, 21.1,0.52, 22.6,-0.35, 24.3,0.2, 25.0,-0.1, 25.5,0.0, 26.2,-0.45, 28.4,0.58, 30.0,-0.5, 31.4,0.55, 33.6,-0.5, 34.8,0.1, 35.6,0.15, 36.6,-0.05, 37.6,0.05, 38.6,-0.1, 39.6,0.1, 40.6,0.0, 41.6,0.2, 42.4,-0.05, 43.2,0.1, 44.0,0.38, 45.2,-0.05, 46.6,-0.3, 47.6,0.1, 48.4,0.25, 49.8,0.45, 51.4,-0.3, 53.0,0.55, 54.3,-0.2, 55.7,-0.68, 57.8,1.0, 59.6,-0.92, 61.2,0.7, 63.2,-0.62, 65.0,0.5, 66.8,-0.45, 68.7,0.5, 70.3,-0.68, 72.0,0.62, 73.7,-0.5, 75.6,0.37, 77.3,-0.43, 79.0,0.3, 80.9,-0.29, 82.6,0.27, 84.3,-0.2, 86.0,0.15, 87.7,-0.12, 89.4,0.1, 91.2,-0.1, 92.9,0.15, 94.6,-0.29, 96.2,0.35, 98.2,-0.36, 99.8,0.25, 101.7,-0.24, 103.4,0.25, 105.1,-0.24, 107.1,0.23, 109.0,-0.17, 111.0,0.17, 112.9,-0.12, 114.8,0.1, 116.5,-0.1, 118.3,0.08, 120,-0.02];
const bcjElastic = [0,0, 3.0,0, 3.6,0.1, 4.2,0.05, 5.2,-0.3, 6.3,0.45, 7.6,-0.43, 8.5,0.1, 9.3,0.2, 10.2,-0.2, 11.3,-0.4, 12.6,0.35, 13.5,0.1, 14.2,0.2, 14.9,0.35, 16.0,0.05, 17.0,0.2, 18.2,-0.2, 19.2,0.35, 20.3,-0.05, 21.0,0.25, 21.9,-0.15, 23.0,0.25, 24.0,-0.3, 24.8,0.0, 25.6,0.1, 26.5,-0.43, 27.2,0.4, 28.4,-0.2, 29.4,0.2, 30.5,0.51, 31.6,-0.35, 32.6,0.5, 33.5,-0.2, 34.5,0.0, 35.5,0.1, 36.5,0.0, 37.5,-0.05, 38.5,0.1, 39.5,0.0, 40.5,0.05, 41.5,-0.05, 42.5,0.1, 43.5,0.0, 44.5,0.2, 45.2,-0.45, 46.4,0.66, 47.3,-0.1, 47.9,0.2, 49.0,0.47, 50.0,-0.3, 51.0,0.35, 52.2,-0.2, 53.0,0.1, 54.3,0.44, 55.5,-0.3, 56.8,0.2, 58.0,-0.2, 59.0,0.0, 60.0,-0.05, 61.2,0.2, 62.5,0.05, 63.5,0.12, 64.5,-0.1, 65.5,0.1, 66.7,-0.05, 68.0,0.1, 69.2,-0.05, 70.4,0.05, 71.5,-0.02, 72.7,0.1, 74.0,-0.05, 75.2,0.1, 76.5,-0.05, 77.8,0.05, 79.0,-0.05, 80.2,0.02, 81.5,-0.05, 82.8,0.05, 84.0,-0.05, 85.3,0.05, 86.5,-0.05, 87.8,0.03, 89.0,-0.05, 90.3,0.05, 91.5,-0.08, 92.8,0.1, 94.0,-0.12, 95.5,0.2, 97.0,-0.1, 98.2,0.1, 99.4,-0.08, 100.6,0.08, 101.8,-0.08, 103.0,0.06, 104.2,-0.06, 105.4,0.05, 106.6,-0.06, 107.8,0.05, 109.0,-0.06, 110.2,0.04, 111.4,-0.05, 112.6,0.04, 113.8,-0.05, 115.0,0.04, 116.2,-0.04, 117.4,0.04, 118.6,-0.03, 120,0.03];
const bcjMBM = [0,0, 3.0,0, 3.6,0.1, 4.2,0.08, 4.8,-0.25, 5.4,-0.5, 6.1,0.0, 6.6,0.25, 7.3,0.2, 8.3,-0.3, 8.9,0.0, 9.8,0.3, 10.6,0.05, 11.8,-0.45, 12.5,-0.1, 13.2,0.3, 13.9,0.15, 14.5,0.2, 15.2,0.0, 16.4,-0.3, 17.6,0.15, 18.5,0.0, 19.5,0.1, 20.2,-0.2, 21.2,0.2, 21.9,-0.1, 22.8,0.2, 23.8,-0.3, 25.2,0.0, 26.5,-0.25, 27.6,0.15, 28.5,0.3, 29.5,-0.1, 30.5,0.1, 31.3,-0.2, 32.0,0.15, 32.8,-0.15, 33.6,0.3, 34.5,-0.1, 35.4,0.1, 36.4,-0.15, 37.4,0.1, 38.3,0.35, 39.2,-0.1, 40.0,0.05, 40.8,-0.02, 41.6,0.1, 42.4,0.0, 43.2,0.1, 44.0,0.0, 44.8,-0.35, 45.4,-0.55, 46.2,0.0, 47.0,0.38, 47.8,0.2, 48.6,0.1, 49.4,0.2, 50.2,-0.05, 51.0,0.15, 51.8,0.0, 52.6,0.05, 53.4,-0.05, 54.2,0.05, 55.0,-0.1, 55.8,-0.35, 56.8,0.1, 57.5,0.3, 58.2,0.05, 58.9,-0.4, 59.8,0.1, 60.6,-0.1, 61.5,0.2, 62.3,-0.15, 63.2,0.15, 64.0,-0.12, 65.0,0.1, 66.0,-0.1, 67.0,0.05, 68.0,-0.1, 69.0,0.1, 70.0,-0.3, 71.0,0.1, 72.0,-0.05, 73.0,0.15, 74.0,-0.1, 75.0,0.0, 76.0,0.1, 77.0,-0.1, 78.0,0.0, 79.0,-0.05, 80.0,0.0, 81.0,-0.05, 82.0,0.05, 83.0,-0.15, 84.0,0.1, 85.0,-0.15, 86.0,0.05, 87.0,-0.1, 88.0,0.12, 89.0,-0.08, 90.0,0.05, 91.0,-0.12, 92.0,0.12, 93.2,-0.1, 94.2,0.15, 95.5,-0.15, 96.8,0.15, 98.0,-0.08, 99.2,0.1, 100.4,-0.1, 101.6,0.08, 102.8,-0.05, 104.0,0.1, 105.2,-0.08, 106.4,0.1, 107.6,-0.1, 108.8,0.05, 110.0,-0.08, 111.2,0.08, 112.4,-0.08, 113.6,0.06, 114.8,-0.06, 116.0,0.05, 117.2,-0.05, 118.4,0.07, 119.3,-0.03, 120,0.05];
const bcjDM4 = [0,0, 3.0,0, 3.6,0.1, 4.2,0.08, 4.8,-0.22, 5.4,-0.45, 6.1,0.0, 6.6,0.27, 7.3,0.2, 8.3,-0.28, 8.9,0.0, 9.8,0.28, 10.6,0.05, 11.8,-0.42, 12.5,-0.1, 13.2,0.32, 13.9,0.15, 14.5,0.22, 15.2,0.0, 16.4,-0.28, 17.6,0.15, 18.5,0.02, 19.5,0.1, 20.2,-0.18, 21.2,0.2, 21.9,-0.08, 22.8,0.22, 23.8,-0.28, 25.2,0.0, 26.5,-0.22, 27.6,0.15, 28.5,0.32, 29.5,-0.08, 30.5,0.1, 31.3,-0.18, 32.0,0.15, 32.8,-0.13, 33.6,0.3, 34.5,-0.08, 35.4,0.1, 36.4,-0.13, 37.4,0.1, 38.3,0.35, 39.2,-0.08, 40.0,0.05, 40.8,0.0, 41.6,0.1, 42.4,0.0, 43.2,0.1, 44.0,0.0, 44.8,-0.32, 45.4,-0.52, 46.2,0.0, 47.0,0.4, 47.8,0.22, 48.6,0.1, 49.4,0.2, 50.2,-0.03, 51.0,0.15, 51.8,0.0, 52.6,0.05, 53.4,-0.05, 54.2,0.05, 55.0,-0.08, 55.8,-0.3, 56.8,0.12, 57.5,0.4, 58.2,0.05, 58.9,-0.38, 59.8,0.1, 60.6,-0.08, 61.5,0.22, 62.3,-0.12, 63.2,0.15, 64.0,-0.1, 65.0,0.12, 66.0,-0.08, 67.0,0.07, 68.0,-0.08, 69.0,0.12, 70.0,-0.25, 71.0,0.1, 72.0,-0.03, 73.0,0.15, 74.0,-0.08, 75.0,0.02, 76.0,0.1, 77.0,-0.08, 78.0,0.02, 79.0,-0.04, 80.0,0.02, 81.0,-0.04, 82.0,0.06, 83.0,-0.12, 84.0,0.12, 85.0,-0.12, 86.0,0.07, 87.0,-0.08, 88.0,0.14, 89.0,-0.06, 90.0,0.07, 91.0,-0.1, 92.0,0.15, 93.2,-0.08, 94.2,0.17, 95.5,-0.12, 96.8,0.17, 98.0,-0.06, 99.2,0.12, 100.4,-0.08, 101.6,0.1, 102.8,-0.03, 104.0,0.12, 105.2,-0.06, 106.4,0.12, 107.6,-0.08, 108.8,0.07, 110.0,-0.06, 111.2,0.1, 112.4,-0.06, 113.6,0.08, 114.8,-0.04, 116.0,0.07, 117.2,-0.03, 118.4,0.08, 119.3,-0.02, 120,0.06];
const bcjDM1 = [0,0, 3.0,0, 3.6,0.1, 4.2,0.08, 4.8,-0.24, 5.4,-0.48, 6.1,0.0, 6.6,0.26, 7.3,0.2, 8.3,-0.29, 8.9,0.0, 9.8,0.29, 10.6,0.05, 11.8,-0.44, 12.5,-0.1, 13.2,0.31, 13.9,0.15, 14.5,0.21, 15.2,0.0, 16.4,-0.29, 17.6,0.15, 18.5,0.01, 19.5,0.1, 20.2,-0.19, 21.2,0.2, 21.9,-0.09, 22.8,0.21, 23.8,-0.29, 25.2,0.0, 26.5,-0.24, 27.6,0.15, 28.5,0.31, 29.5,-0.09, 30.5,0.1, 31.3,-0.19, 32.0,0.15, 32.8,-0.14, 33.6,0.3, 34.5,-0.09, 35.4,0.1, 36.4,-0.14, 37.4,0.1, 38.3,0.35, 39.2,-0.09, 40.0,0.05, 40.8,-0.01, 41.6,0.1, 42.4,0.0, 43.2,0.1, 44.0,0.0, 44.8,-0.34, 45.4,-0.54, 46.2,0.0, 47.0,0.39, 47.8,0.21, 48.6,0.1, 49.4,0.2, 50.2,-0.04, 51.0,0.15, 51.8,0.0, 52.6,0.05, 53.4,-0.05, 54.2,0.05, 55.0,-0.09, 55.8,-0.33, 56.8,0.11, 57.5,0.35, 58.2,0.05, 58.9,-0.39, 59.8,0.1, 60.6,-0.09, 61.5,0.21, 62.3,-0.14, 63.2,0.15, 64.0,-0.11, 65.0,0.11, 66.0,-0.09, 67.0,0.06, 68.0,-0.09, 69.0,0.11, 70.0,-0.28, 71.0,0.1, 72.0,-0.04, 73.0,0.15, 74.0,-0.09, 75.0,0.01, 76.0,0.1, 77.0,-0.09, 78.0,0.01, 79.0,-0.05, 80.0,0.01, 81.0,-0.05, 82.0,0.05, 83.0,-0.14, 84.0,0.11, 85.0,-0.14, 86.0,0.06, 87.0,-0.09, 88.0,0.13, 89.0,-0.07, 90.0,0.06, 91.0,-0.11, 92.0,0.13, 93.2,-0.09, 94.2,0.16, 95.5,-0.14, 96.8,0.16, 98.0,-0.07, 99.2,0.11, 100.4,-0.09, 101.6,0.09, 102.8,-0.04, 104.0,0.11, 105.2,-0.07, 106.4,0.11, 107.6,-0.09, 108.8,0.06, 110.0,-0.07, 111.2,0.09, 112.4,-0.07, 113.6,0.07, 114.8,-0.05, 116.0,0.06, 117.2,-0.04, 118.4,0.07, 119.3,-0.03, 120,0.05];

// ---- Panel metadata ----
const panelNames = ["Tohoku", "KobeJMA", "ElCentro", "Sendai", "Taft", "ChiChi", "Kumamoto", "BCJ-L2"];
const panelDurations = [41, 60, 53.8, 150, 54.4, 72, 80, 120];
const panelTicks = [[0,20,40], [0,20,40,60], [0,20,40], [0,50,100,150], [0,20,40], [0,20,40,60], [0,20,40,60,80], [0,20,40,60,80,100,120]];
const yTicks = [-1, 0, 1];
const seriesLabels = ["no outrigger (PISA3D)", "elastic outrigger (PISA3D)", "MBM (PISA3D)", "DM4 (OpenSees)", "DM1 (OpenSees)"];
const panelSeries = [
  [tohokuNone, tohokuElastic, tohokuMBM, tohokuDM4, tohokuDM1],
  [kobeNone, kobeElastic, kobeMBM, kobeDM4, kobeDM1],
  [elcNone, elcElastic, elcMBM, elcDM4, elcDM1],
  [sendaiNone, sendaiElastic, sendaiMBM, sendaiDM4, sendaiDM1],
  [taftNone, taftElastic, taftMBM, taftDM4, taftDM1],
  [chichiNone, chichiElastic, chichiMBM, chichiDM4, chichiDM1],
  [kumaNone, kumaElastic, kumaMBM, kumaDM4, kumaDM1],
  [bcjNone, bcjElastic, bcjMBM, bcjDM4, bcjDM1]
];

// ---- Styling / layout ----
const seriesColors = ["#3ee03e", "#55f2f2", "#2a2aff", "#ff4848", "#8a8aff"];
const seriesDash = [null, null, null, null, "6,4"];
const colLeft = [57.5, 686.5];
const panelW = 604.5;
const rowTop = [39.3, 221.6, 402.7, 584.1];
const panelH = 141.6;
const axisColor = "#262626";
const tickLen = 6;
const tickFont = 17.5;

const svg = d3.select("#chart");

function pairs(flat) {
  const out = [];
  for (let i = 0; i + 1 < flat.length; i += 2) out.push([flat[i], flat[i + 1]]);
  return out;
}

function styleAxis(sel, showLabels) {
  sel.select(".domain").remove();
  sel.selectAll(".tick line").attr("stroke", axisColor).attr("stroke-width", 0.9);
  sel.selectAll(".tick text")
    .attr("fill", axisColor)
    .style("font-size", tickFont + "px")
    .style("font-family", '"Liberation Sans", Arial, sans-serif');
  if (!showLabels) sel.selectAll(".tick text").remove();
}

const plain = d => String(d);

panelNames.forEach((name, i) => {
  const col = i % 2, row = Math.floor(i / 2);
  const x0 = colLeft[col], y0 = rowTop[row];
  const x = d3.scaleLinear().domain([0, panelDurations[i]]).range([x0, x0 + panelW]);
  const y = d3.scaleLinear().domain([-1, 1]).range([y0 + panelH, y0]);
  const g = svg.append("g").attr("class", "panel");

  const clipId = "clip-" + i;
  svg.append("clipPath").attr("id", clipId)
    .append("rect").attr("x", x0).attr("y", y0).attr("width", panelW).attr("height", panelH);

  const line = d3.line().x(d => x(d[0])).y(d => y(d[1])).curve(d3.curveMonotoneX);
  const plot = g.append("g").attr("clip-path", `url(#${clipId})`);
  panelSeries[i].forEach((flat, k) => {
    plot.append("path")
      .datum(pairs(flat))
      .attr("d", line)
      .attr("fill", "none")
      .attr("stroke", seriesColors[k])
      .attr("stroke-width", 1)
      .attr("stroke-linejoin", "round")
      .attr("stroke-dasharray", seriesDash[k]);
  });

  // box
  g.append("rect").attr("x", x0).attr("y", y0).attr("width", panelW).attr("height", panelH)
    .attr("fill", "none").attr("stroke", axisColor).attr("stroke-width", 0.9);

  // x axes (bottom labelled, top ticks only)
  g.append("g").attr("transform", `translate(0,${y0 + panelH})`)
    .call(d3.axisBottom(x).tickValues(panelTicks[i]).tickSizeInner(-tickLen).tickSizeOuter(0).tickPadding(13).tickFormat(plain))
    .call(s => styleAxis(s, true));
  g.append("g").attr("transform", `translate(0,${y0})`)
    .call(d3.axisTop(x).tickValues(panelTicks[i]).tickSizeInner(-tickLen).tickSizeOuter(0).tickFormat(plain))
    .call(s => styleAxis(s, false));

  // y axes
  g.append("g").attr("transform", `translate(${x0},0)`)
    .call(d3.axisLeft(y).tickValues(yTicks).tickSizeInner(-tickLen).tickSizeOuter(0).tickPadding(7).tickFormat(plain))
    .call(s => styleAxis(s, col === 0));
  g.append("g").attr("transform", `translate(${x0 + panelW},0)`)
    .call(d3.axisRight(y).tickValues(yTicks).tickSizeInner(-tickLen).tickSizeOuter(0).tickPadding(6).tickFormat(plain))
    .call(s => styleAxis(s, col === 1));

  // y label
  const yLabX = col === 0 ? 21 : 1331;
  g.append("text")
    .attr("transform", `translate(${yLabX},${y0 + panelH / 2}) rotate(-90)`)
    .attr("text-anchor", "middle").attr("dy", "0.35em")
    .style("font-size", "20px").attr("fill", "#000")
    .text("θ (% rad.)");

  // record name
  g.append("text")
    .attr("x", x0 + 484).attr("y", y0 + panelH - 6.5)
    .style("font-size", "21.5px").attr("fill", "#000")
    .text(name);

  // time label on the bottom row
  if (row === 3) {
    g.append("text")
      .attr("x", x0 + panelW / 2).attr("y", 781)
      .attr("text-anchor", "middle")
      .style("font-size", "19.5px").attr("fill", "#000")
      .text("time (sec)");
  }
});

// ---- Legend ----
const legendLineX = [100.5, 365, 658, 841.5, 1039];
const legendY = 19;
const legend = svg.append("g").attr("class", "legend");
seriesLabels.forEach((label, k) => {
  const lx = legendLineX[k];
  legend.append("line")
    .attr("x1", lx).attr("x2", lx + 44.5).attr("y1", legendY).attr("y2", legendY)
    .attr("stroke", seriesColors[k]).attr("stroke-width", 1)
    .attr("stroke-dasharray", seriesDash[k]);
  legend.append("text")
    .attr("x", lx + 47.5).attr("y", legendY).attr("dy", "0.36em")
    .style("font-size", "17.6px").attr("fill", "#000")
    .text(label);
});
</script>
</body>
</html>
